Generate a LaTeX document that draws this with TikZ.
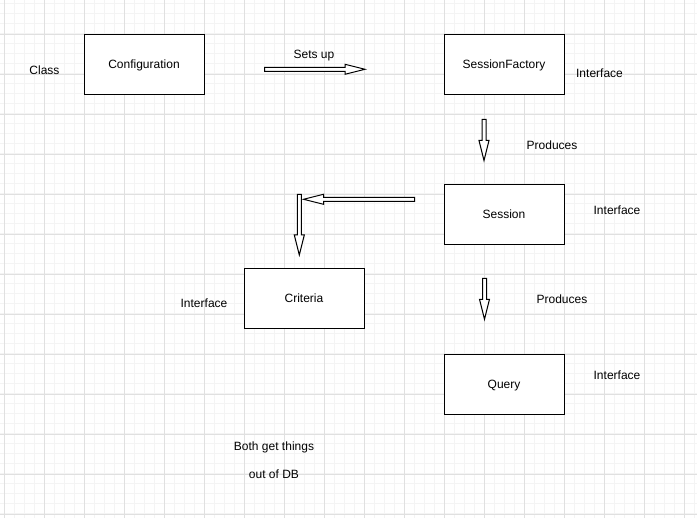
\documentclass[tikz,border=0pt]{standalone}
\usepackage{fontspec}
\setmainfont{Liberation Sans}
\usetikzlibrary{calc}
\definecolor{gridminor}{HTML}{F4F4F4}
\definecolor{gridmajor}{HTML}{E0E0E0}
\tikzset{
  box/.style={draw=black, line width=1pt, fill=white, minimum width=120pt, minimum height=60pt, inner sep=0pt, font=\fontsize{12pt}{14pt}\selectfont, text height=8.6pt, text depth=0pt},
  lbl/.style={inner sep=0pt, font=\fontsize{12pt}{14pt}\selectfont, text height=8.6pt, text depth=0pt},
  fat/.style={draw=black, line width=1pt, fill=white, line join=miter}
}
\newcommand\flexarrow[2]{%
  \coordinate (fh) at ($(#2)!20pt!(#1)$);
  \draw[fat] ($(#1)!2pt!90:(#2)$) -- ($(fh)!2pt!90:(#2)$) -- ($(fh)!5pt!90:(#2)$) -- (#2)
    -- ($(fh)!5pt!-90:(#2)$) -- ($(fh)!2pt!-90:(#2)$) -- ($(#1)!2pt!-90:(#2)$) -- cycle;
}
\begin{document}
\begin{tikzpicture}[x=1pt,y=-1pt]
\useasboundingbox (0,0) rectangle (697,518);
\fill[white] (0,0) rectangle (697,518);
% grid
\foreach \i in {0,...,69} {\draw[gridminor, line width=1pt] ({4+10*\i},0) -- ({4+10*\i},518);}
\foreach \j in {0,...,51} {\draw[gridminor, line width=1pt] (0,{4+10*\j}) -- (697,{4+10*\j});}
\foreach \i in {0,...,17} {\draw[gridmajor, line width=0.8pt] ({4+40*\i},0) -- ({4+40*\i},518);}
\foreach \j in {0,...,12} {\draw[gridmajor, line width=0.8pt] (0,{34+40*\j}) -- (697,{34+40*\j});}

% boxes
\node[box] (config) at (144,64.3) {Configuration};
\node[box] (sf) at (504,64.3) {SessionFactory};
\node[box] (session) at (504,214.3) {Session};
\node[box] (criteria) at (304,298.3) {Criteria};
\node[box] (query) at (504,384.3) {Query};

% labels
\node[lbl] (lclass) at (44.5,70.5) {Class};
\node[lbl] (lsetsup) at (314,54.5) {Sets up};
\node[lbl] (lsfint) at (599.5,73.5) {Interface};
\node[lbl] (lprod1) at (552,145.5) {Produces};
\node[lbl] (lsesint) at (617,210.5) {Interface};
\node[lbl] (lcrint) at (204,303.5) {Interface};
\node[lbl] (lprod2) at (562,299.5) {Produces};
\node[lbl] (lqint) at (617,375.5) {Interface};
\node[lbl] (lboth1) at (274,446.5) {Both get things};
\node[lbl] (lboth2) at (274,474.5) {out of DB};

% arrows
\coordinate (a1s) at (264.5,69.3);
\coordinate (a1e) at (365,69.3);
\coordinate (a2s) at (484,119.5);
\coordinate (a2e) at (484,160.5);
\coordinate (a3s) at (414.5,199.3);
\coordinate (a3e) at (303.5,199.3);
\coordinate (a4s) at (299.3,194.5);
\coordinate (a4e) at (299.3,255);
\coordinate (a5s) at (484.5,278.5);
\coordinate (a5e) at (484.5,319.3);
\flexarrow{a1s}{a1e}
\flexarrow{a2s}{a2e}
\flexarrow{a3s}{a3e}
\flexarrow{a4s}{a4e}
\flexarrow{a5s}{a5e}
\end{tikzpicture}
\end{document}
